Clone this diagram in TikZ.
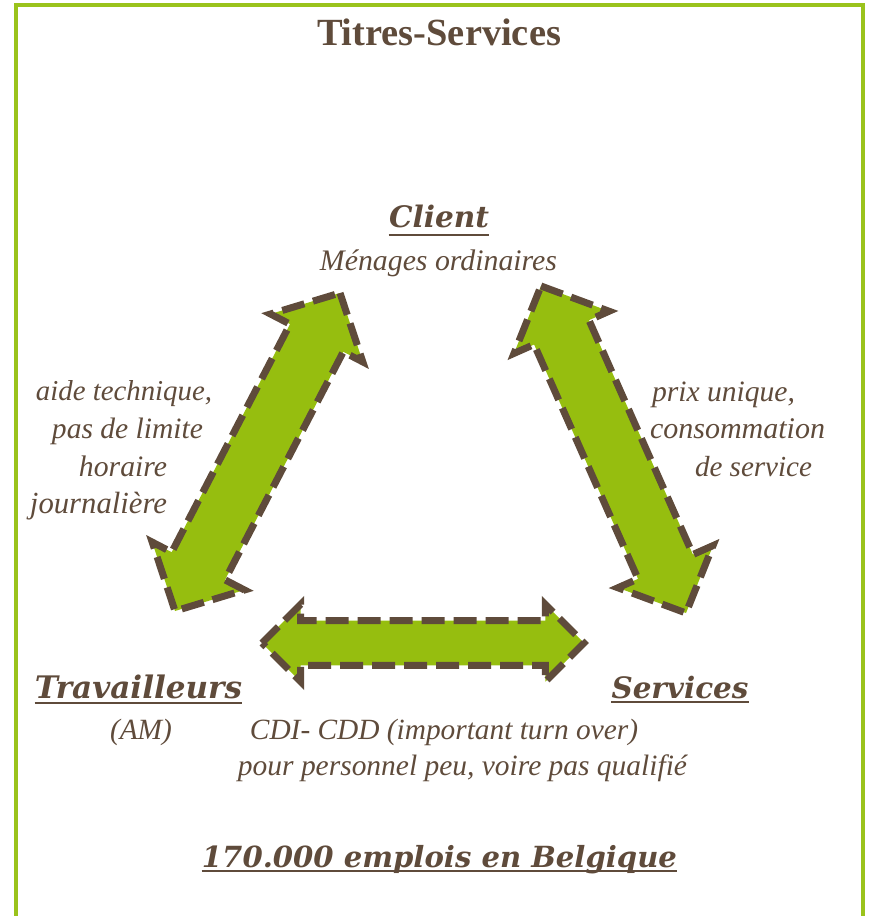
\documentclass[tikz,border=0pt]{standalone}
\usepackage{fontspec}
\setmainfont{Liberation Serif}
\newfontfamily\dvs{DejaVu Serif}
\usepackage{graphicx}
\usetikzlibrary{calc}
\definecolor{brn}{HTML}{5F4B3B}
\definecolor{grn}{HTML}{96BE0F}
\definecolor{frm}{HTML}{9AC31C}
\newcommand\fitw[2]{\resizebox{#1}{!}{#2}}
\newcommand\dblarr[5]{%
  \filldraw[arrshape] (#1)
   -- ($(#1)!#3!(#2)!#4!90:(#2)$)
   -- ($(#1)!#3!(#2)!#5!90:(#2)$)
   -- ($(#2)!#3!(#1)!#5!-90:(#1)$)
   -- ($(#2)!#3!(#1)!#4!-90:(#1)$)
   -- (#2)
   -- ($(#2)!#3!(#1)!#4!90:(#1)$)
   -- ($(#2)!#3!(#1)!#5!90:(#1)$)
   -- ($(#1)!#3!(#2)!#5!-90:(#2)$)
   -- ($(#1)!#3!(#2)!#4!-90:(#2)$)
   -- cycle;}
\begin{document}
\begin{tikzpicture}[x=0.75pt, y=-0.75pt,
  arrshape/.style={fill=grn, draw=brn, line width=5.25pt, dash pattern=on 17.25pt off 6.75pt, line join=miter},
  txt/.style={text=brn, inner sep=0pt, anchor=base},
  uline/.style={draw=brn, line width=1.5pt}]
\useasboundingbox (0,0) rectangle (868,916);
\clip (0,0) rectangle (868,916);
\fill[white] (0,0) rectangle (868,916);
\draw[frm, line width=2.6pt] (16,5) rectangle (863,960);
% arrows
\coordinate (h1) at (262,643); \coordinate (h2) at (584,643);
\coordinate (l1) at (340,293); \coordinate (l2) at (175,611);
\coordinate (r1) at (541,286); \coordinate (r2) at (686,613);
\dblarr{h1}{h2}{29pt}{29pt}{16.75pt}
\dblarr{l1}{l2}{38pt}{39pt}{22.5pt}
\dblarr{r1}{r2}{38pt}{39pt}{22.5pt}
% texts
\node[txt] (title) at (439,46) {\fitw{183pt}{\bfseries Titres-Services}};
\node[txt] (client) at (439,228) {\fitw{75pt}{\dvs\bfseries\itshape Client}};
\draw[uline] ([yshift=-5.25pt]client.base west) -- ([yshift=-5.25pt]client.base east);
\node[txt] (menages) at (438.5,270) {\fitw{177.75pt}{\itshape Ménages ordinaires}};
\node[txt] (a1) at (124,400) {\fitw{132pt}{\itshape aide technique,}};
\node[txt] (a2) at (127.5,438) {\fitw{113.25pt}{\itshape pas de limite}};
\node[txt] (a3) at (123,476) {\fitw{66pt}{\itshape horaire}};
\node[txt] (a4) at (98.5,513) {\fitw{102.75pt}{\itshape journalière}};
\node[txt] (b1) at (723.5,401) {\fitw{107.25pt}{\itshape prix unique,}};
\node[txt] (b2) at (737.5,438) {\fitw{131.25pt}{\itshape consommation}};
\node[txt] (b3) at (753.5,476) {\fitw{87.75pt}{\itshape de service}};
\node[txt] (trav) at (138.5,698) {\fitw{155.25pt}{\dvs\bfseries\itshape Travailleurs}};
\draw[uline] ([yshift=-3.75pt]trav.base west) -- ([yshift=-3.75pt]trav.base east);
\node[txt] (serv) at (680,698) {\fitw{102.75pt}{\dvs\bfseries\itshape Services}};
\draw[uline] ([yshift=-3pt]serv.base west) -- ([yshift=-3pt]serv.base east);
\node[txt] (am) at (141,739) {\fitw{46.5pt}{\itshape (AM)}};
\node[txt] (cdi) at (444,739) {\fitw{291pt}{\itshape CDI- CDD (important turn over)}};
\node[txt] (pour) at (462.5,775) {\fitw{336.75pt}{\itshape pour personnel peu, voire pas qualifié}};
\node[txt] (emp) at (439.5,867) {\fitw{356.25pt}{\dvs\bfseries\itshape 170.000 emplois en Belgique}};
\draw[uline] ([yshift=-3pt]emp.base west) -- ([yshift=-3pt]emp.base east);
\end{tikzpicture}
\end{document}
